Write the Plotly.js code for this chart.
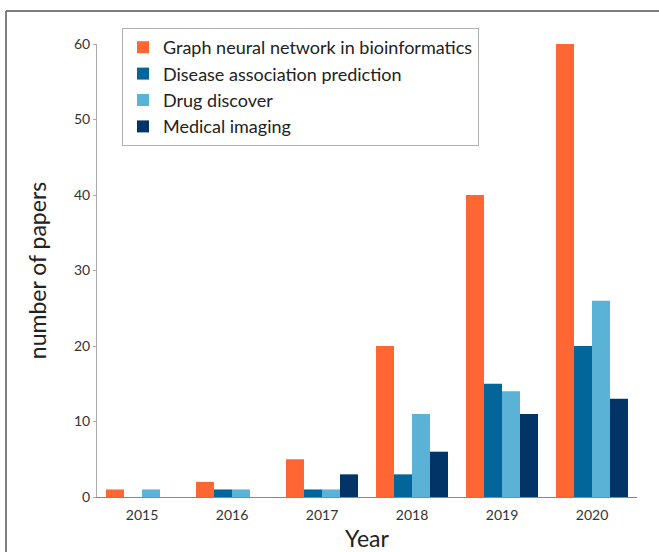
<!DOCTYPE html>
<html>
<head>
<meta charset="utf-8">
<script src="https://cdn.plot.ly/plotly-3.0.1.min.js"></script>
<style>
html,body{margin:0;padding:0;background:#fff;overflow:hidden;}
#chart{width:659px;height:552px;}
</style>
</head>
<body>
<div id="chart"></div>
<script>
var years = ['2015', '2016', '2017', '2018', '2019', '2020'];
var seriesNames = ['Graph neural network in bioinformatics', 'Disease association prediction', 'Drug discover', 'Medical imaging'];
var gnnBio = [1, 2, 5, 20, 40, 60];
var diseaseAssoc = [0, 1, 1, 3, 15, 20];
var drugDiscover = [1, 1, 1, 11, 14, 26];
var medicalImaging = [0, 0, 3, 6, 11, 13];
var colors = ['#FF6633', '#03669A', '#5AB2D6', '#023468'];

var values = [gnnBio, diseaseAssoc, drugDiscover, medicalImaging];
var traces = values.map(function (v, i) {
  return {
    type: 'bar',
    x: years,
    y: v,
    name: seriesNames[i],
    marker: {color: colors[i], line: {width: 0}},
    hoverinfo: 'x+y+name'
  };
});

var W = 659, H = 552;
var mL = 97, mR = 22, mT = 44, mB = 55;
var pw = W - mL - mR, ph = H - mT - mB;
function px(x) { return (x - mL) / pw; }
function py(y) { return (H - mB - y) / ph; }

var layout = {
  width: W,
  height: H,
  margin: {l: mL, r: mR, t: mT, b: mB, pad: 0},
  paper_bgcolor: '#ffffff',
  plot_bgcolor: '#ffffff',
  font: {family: 'Lato, "Open Sans", sans-serif', color: '#333333'},
  barmode: 'group',
  bargap: 0.2,
  bargroupgap: 0,
  showlegend: true,
  legend: {
    x: px(122), y: py(28), xanchor: 'left', yanchor: 'top',
    bgcolor: '#ffffff',
    bordercolor: '#b0b0b0',
    borderwidth: 1,
    itemwidth: 30,
    font: {size: 18, color: '#222222', family: 'Lato, "Open Sans", sans-serif'},
    traceorder: 'normal'
  },
  xaxis: {
    type: 'category',
    showgrid: false,
    showline: true,
    linecolor: '#888888',
    linewidth: 1,
    ticks: '',
    ticklabelstandoff: 5,
    tickfont: {size: 14, color: '#333333'},
    title: {text: 'Year', font: {size: 23, color: '#222222'}, standoff: 14},
    zeroline: false
  },
  yaxis: {
    range: [0, 60],
    dtick: 10,
    showgrid: false,
    showline: true,
    linecolor: '#aaaaaa',
    linewidth: 1,
    ticks: 'outside',
    ticklen: 3,
    tickcolor: '#aaaaaa',
    tickfont: {size: 14, color: '#333333'},
    title: {text: 'number of papers', font: {size: 23, color: '#222222'}, standoff: 20},
    zeroline: false
  },
  shapes: [
    {type: 'line', xref: 'paper', yref: 'paper', x0: px(6), x1: px(W + 5), y0: py(11), y1: py(11), line: {color: '#555555', width: 1.5}},
    {type: 'line', xref: 'paper', yref: 'paper', x0: px(6), x1: px(6), y0: py(11), y1: py(H + 5), line: {color: '#555555', width: 1.5}}
  ]
};

Plotly.newPlot('chart', traces, layout, {displayModeBar: false, staticPlot: true});
</script>
</body>
</html>
